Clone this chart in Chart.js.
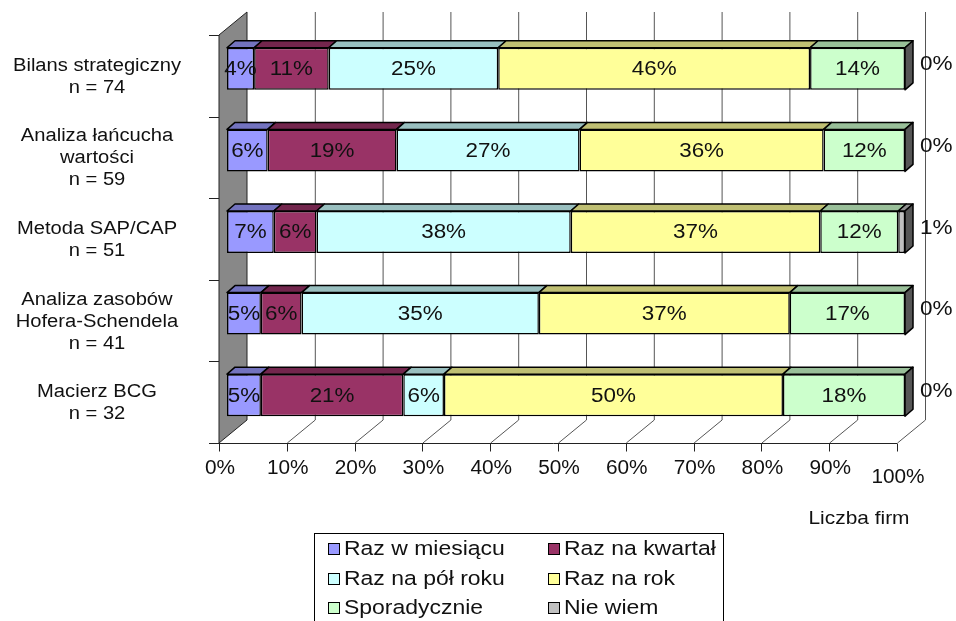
<!DOCTYPE html>
<html>
<head>
<meta charset="utf-8">
<script src="https://cdn.jsdelivr.net/npm/chart.js@4/dist/chart.umd.min.js"></script>
<style>
  html, body { margin: 0; padding: 0; background: #fff; }
  #wrap { width: 956px; height: 621px; }
</style>
</head>
<body>
<div id="wrap"><canvas id="chart" width="956" height="621"></canvas></div>
<script>

// categories (multi-line labels) and series, in percent
const categories = [
  ["Bilans strategiczny", "n = 74"],
  ["Analiza łańcucha", "wartości", "n = 59"],
  ["Metoda SAP/CAP", "n = 51"],
  ["Analiza zasobów", "Hofera-Schendela", "n = 41"],
  ["Macierz BCG", "n = 32"]
];

const seriesNames = [
  "Raz w miesiącu", "Raz na kwartał", "Raz na pół roku",
  "Raz na rok", "Sporadycznie", "Nie wiem"
];

const razWMiesiacu  = [4, 6, 6.9, 5, 5];
const razNaKwartal  = [11, 19, 6.3, 6, 21];
const razNaPolRoku  = [25, 27, 37.5, 35, 6];
const razNaRok      = [46, 36, 36.8, 37, 50];
const sporadycznie  = [14, 12, 11.5, 17, 18];
const nieWiem       = [0, 0, 1, 0, 0];

const tickValues = [0, 10, 20, 30, 40, 50, 60, 70, 80, 90, 100];
const axisTitle = "Liczba firm";

const seriesColors = ["#9999FF", "#993366", "#CCFFFF", "#FFFF99", "#CCFFCC", "#C0C0C0"];

// 3D offsets relative to the bars' front plane
const BAR_DX = 8, BAR_DY = -7;     // bar depth
const BACK_DX = 20, BACK_DY = -16; // back wall
const FRONT_DX = -8, FRONT_DY = 7; // floor front edge

const FONT = "'Liberation Sans', Arial, sans-serif";

function shade(hex, f) {
  const n = parseInt(hex.slice(1), 16);
  const r = Math.round(((n >> 16) & 255) * f);
  const g = Math.round(((n >> 8) & 255) * f);
  const b = Math.round((n & 255) * f);
  return `rgb(${r},${g},${b})`;
}

function poly(ctx, pts, fill, stroke) {
  ctx.beginPath();
  ctx.moveTo(pts[0][0], pts[0][1]);
  for (let i = 1; i < pts.length; i++) ctx.lineTo(pts[i][0], pts[i][1]);
  ctx.closePath();
  if (fill) { ctx.fillStyle = fill; ctx.fill(); }
  if (stroke) { ctx.strokeStyle = stroke; ctx.stroke(); }
}

function text(ctx, str, x, y, size, align, sx) {
  ctx.save();
  ctx.font = size + "px " + FONT;
  ctx.fillStyle = "#111";
  ctx.textBaseline = "middle";
  ctx.textAlign = align;
  ctx.translate(x, y);
  ctx.scale(sx, 1);
  ctx.fillText(str, 0, 0);
  ctx.restore();
}

// walls, gridlines, floor and axes behind the bars
const backdrop = {
  id: "backdrop",
  beforeDatasetsDraw(chart) {
    const ctx = chart.ctx;
    const xs = chart.scales.x;
    const area = chart.chartArea;
    const top = area.top, bot = area.bottom;
    const x0 = xs.getPixelForValue(0);

    ctx.save();
    ctx.lineWidth = 1;

    // back wall gridlines
    tickValues.forEach(v => {
      if (v === 0) return;
      const xb = xs.getPixelForValue(v) + BACK_DX;
      ctx.strokeStyle = "#555";
      ctx.beginPath();
      ctx.moveTo(xb + 0.5, top + BACK_DY);
      ctx.lineTo(xb + 0.5, bot + BACK_DY);
      ctx.stroke();
      // floor diagonal
      const xf = xs.getPixelForValue(v) + FRONT_DX;
      ctx.beginPath();
      ctx.moveTo(xb + 0.5, bot + BACK_DY);
      ctx.lineTo(xf + 0.5, bot + FRONT_DY);
      ctx.stroke();
    });

    // grey side wall
    poly(ctx, [
      [x0 + FRONT_DX, top + FRONT_DY],
      [x0 + BACK_DX, top + BACK_DY],
      [x0 + BACK_DX, bot + BACK_DY],
      [x0 + FRONT_DX, bot + FRONT_DY]
    ], "#888888", "#222");

    // category tick marks on the wall's front edge
    ctx.strokeStyle = "#222";
    const n = categories.length;
    for (let i = 0; i <= n; i++) {
      const y = top + (bot - top) * i / n + FRONT_DY;
      ctx.beginPath();
      ctx.moveTo(x0 + FRONT_DX - 10, Math.round(y) + 0.5);
      ctx.lineTo(x0 + FRONT_DX, Math.round(y) + 0.5);
      ctx.stroke();
    }

    // floor front edge and ticks
    const yf = Math.round(bot + FRONT_DY) + 0.5;
    ctx.beginPath();
    ctx.moveTo(x0 + FRONT_DX - 9, yf);
    ctx.lineTo(xs.getPixelForValue(100) + FRONT_DX, yf);
    ctx.stroke();
    tickValues.forEach(v => {
      const xf = Math.round(xs.getPixelForValue(v) + FRONT_DX) + 0.5;
      ctx.beginPath();
      ctx.moveTo(xf, yf);
      ctx.lineTo(xf, yf + 8);
      ctx.stroke();
    });
    ctx.restore();
  }
};

// bar top faces, end caps, value labels, axis labels and legend
const overlay = {
  id: "overlay",
  afterDatasetsDraw(chart) {
    const ctx = chart.ctx;
    const xs = chart.scales.x;
    const nSets = chart.data.datasets.length;

    ctx.save();
    ctx.lineWidth = 1.5;
    ctx.lineJoin = "round";

    chart.data.datasets.forEach((ds, di) => {
      const meta = chart.getDatasetMeta(di);
      meta.data.forEach((bar, i) => {
        const p = bar.getProps(["x", "y", "base", "height"], true);
        const yTop = p.y - p.height / 2;
        const yBot = p.y + p.height / 2;
        const x1 = Math.min(p.base, p.x), x2 = Math.max(p.base, p.x);
        if (x2 - x1 > 0.5) {
          poly(ctx, [
            [x1, yTop], [x1 + BAR_DX, yTop + BAR_DY],
            [x2 + BAR_DX, yTop + BAR_DY], [x2, yTop]
          ], shade(seriesColors[di], 0.75), "#000");
        }
        // right end cap of the stack
        if (di === nSets - 1) {
          poly(ctx, [
            [x2, yTop], [x2 + BAR_DX, yTop + BAR_DY],
            [x2 + BAR_DX, yBot + BAR_DY], [x2, yBot]
          ], shade(seriesColors[di], 0.45), "#000");
          text(ctx, Math.round(ds.data[i]) + "%", x2 + 15, p.y - 4, 20.5, "left", 1.1);
        } else if (ds.data[i] > 0) {
          text(ctx, Math.round(ds.data[i]) + "%", (x1 + x2) / 2, p.y + 1, 19.5, "center", 1.15);
        }
      });
    });
    ctx.restore();

    // category labels
    const yScale = chart.scales.y;
    categories.forEach((lines, i) => {
      const cy = yScale.getPixelForValue(i) + 8;
      const lh = 22;
      lines.forEach((ln, k) => {
        text(ctx, ln, 97, cy + (k - (lines.length - 1) / 2) * lh, 18, "center", 1.12);
      });
    });

    // value axis labels on the floor front edge
    tickValues.forEach(v => {
      const x = xs.getPixelForValue(v) + FRONT_DX;
      const y = v === 100 ? 477 : 468;
      text(ctx, v + "%", x + 1, y, 20, "center", 1.04);
    });
    text(ctx, axisTitle, 859, 519, 19, "center", 1.1);

    // legend box
    ctx.save();
    ctx.strokeStyle = "#000";
    ctx.lineWidth = 1;
    ctx.strokeRect(314.5, 533.5, 409, 100);
    const cols = [328, 548];
    const rows = [549, 579, 608];
    seriesNames.forEach((name, i) => {
      const cx = cols[i % 2], cy = rows[Math.floor(i / 2)];
      ctx.fillStyle = seriesColors[i];
      ctx.fillRect(cx, cy - 6, 12, 12);
      ctx.strokeStyle = "#000";
      ctx.strokeRect(cx + 0.5, cy - 5.5, 11, 11);
      text(ctx, name, cx + 16, cy, 20.5, "left", 1.12);
    });
    ctx.restore();
  }
};

const sets = [razWMiesiacu, razNaKwartal, razNaPolRoku, razNaRok, sporadycznie, nieWiem];

new Chart(document.getElementById("chart"), {
  type: "bar",
  data: {
    labels: categories,
    datasets: sets.map((d, i) => ({
      label: seriesNames[i],
      data: d,
      backgroundColor: seriesColors[i],
      borderColor: "#000",
      borderWidth: 1.5,
      borderSkipped: false,
      barPercentage: 0.515,
      categoryPercentage: 1.0
    }))
  },
  options: {
    indexAxis: "y",
    responsive: false,
    animation: false,
    layout: { padding: { left: 227, right: 51, top: 28, bottom: 185 } },
    scales: {
      x: { stacked: true, min: 0, max: 100, display: false },
      y: { stacked: true, display: false }
    },
    plugins: {
      legend: { display: false },
      tooltip: { enabled: false }
    }
  },
  plugins: [backdrop, overlay]
});
</script>
</body>
</html>
